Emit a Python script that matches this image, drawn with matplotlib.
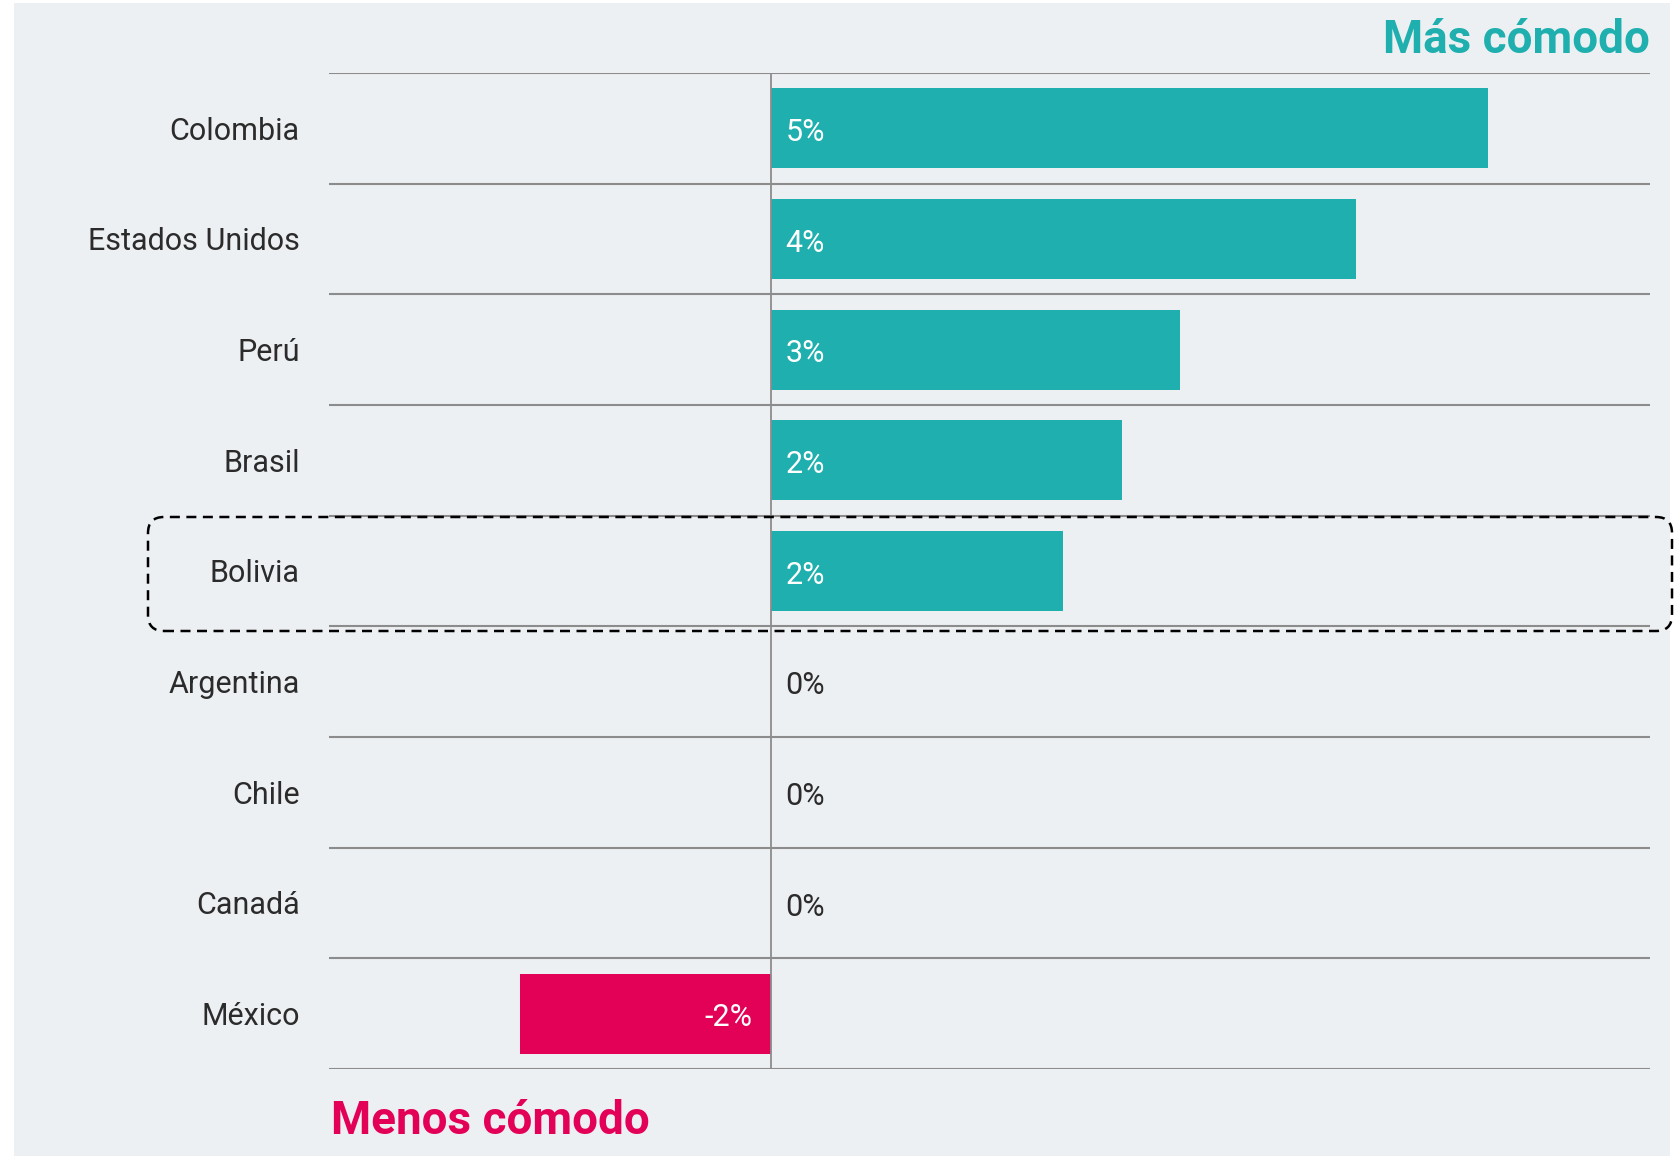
import matplotlib.pyplot as plt
from matplotlib.patches import Rectangle, FancyBboxPatch
from matplotlib.transforms import IdentityTransform

# datos
paises = ["Colombia", "Estados Unidos", "Perú", "Brasil", "Bolivia",
          "Argentina", "Chile", "Canadá", "México"]
valores = [5.0, 4.08, 2.85, 2.45, 2.04, 0.0, 0.0, 0.0, -1.75]
etiquetas = ["5%", "4%", "3%", "2%", "2%", "0%", "0%", "0%", "-2%"]
destacado = "Bolivia"

verde = "#1EAFAE"
rosa = "#E30057"
fondo = "#EDF0F3"
gris = "#8C8C8C"
texto = "#2B2B2B"

plt.rcParams['font.family'] = ['Roboto', 'DejaVu Sans']

W, H = 1681, 1156
fig = plt.figure(figsize=(W / 100, H / 100), dpi=100)
fig.patch.set_facecolor("white")

# panel de fondo
fig.patches.append(Rectangle((14 / W, 0), (1670 - 14) / W, 1 - 3 / H,
                             transform=fig.transFigure, facecolor=fondo,
                             edgecolor="none", zorder=-5))

ax = fig.add_axes([329 / W, 1 - 1069 / H, (1650 - 329) / W, (1069 - 73) / H])
ax.set_facecolor("none")

y = list(range(len(paises)))
colores = [verde if v >= 0 else rosa for v in valores]
ax.barh(y, valores, height=0.72, color=colores, zorder=2)

ax.set_ylim(len(paises) - 0.5, -0.5)
ax.set_xlim(-3.08, 6.13)

# lineas horizontales entre filas
for k in range(len(paises) + 1):
    ax.axhline(k - 0.5, color=gris, lw=1.5, zorder=1)
ax.axvline(0, color=gris, lw=1.3, zorder=3)

for s in ax.spines.values():
    s.set_visible(False)
ax.set_xticks([])
ax.set_yticks([])

# nombres de paises
for i, p in enumerate(paises):
    ax.annotate(p, xy=(0, i), xycoords=("axes fraction", "data"),
                xytext=(-21, -2), textcoords="offset points",
                ha="right", va="center", fontsize=22, color=texto)

# etiquetas de valor
for i, (v, t) in enumerate(zip(valores, etiquetas)):
    if v > 0:
        col, dx, ha = "white", 10.5, "left"
    elif v < 0:
        col, dx, ha = "white", -13, "right"
    else:
        col, dx, ha = texto, 10.5, "left"
    ax.annotate(t, xy=(0, i), xytext=(dx, -3), textcoords="offset points",
                ha=ha, va="center", fontsize=22, color=col, zorder=4)

# titulos
fig.text(1650 / W, 1 - 53 / H, "Más cómodo", ha="right", va="baseline",
         fontsize=33, fontweight="bold", color=verde)
fig.text(331 / W, 1 - 1134 / H, "Menos cómodo", ha="left", va="baseline",
         fontsize=33, fontweight="bold", color=rosa)

# recuadro punteado alrededor del pais destacado
fila = paises.index(destacado)
fig.patches.append(FancyBboxPatch((148, H - 631), 1672 - 148, 631 - 517,
                                  boxstyle="round,pad=0,rounding_size=16",
                                  transform=IdentityTransform(),
                                  facecolor="none", edgecolor="black",
                                  lw=1.8, linestyle=(0, (4, 2.6)), zorder=5))

fig.savefig("out.png", dpi=100)
